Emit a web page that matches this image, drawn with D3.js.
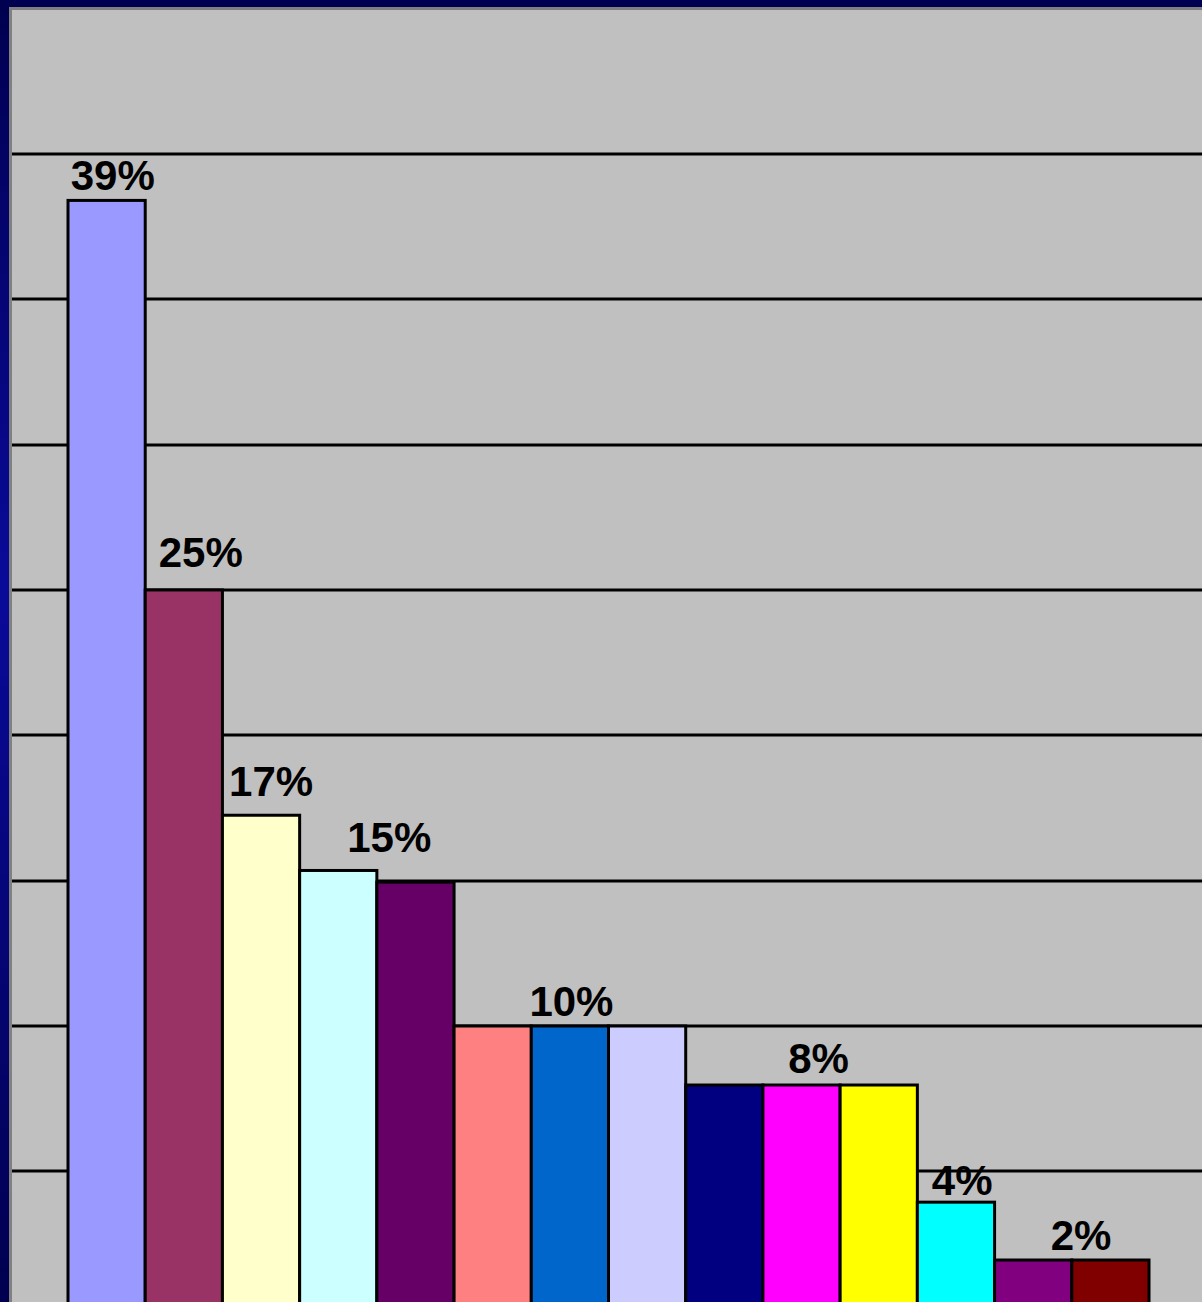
<!DOCTYPE html>
<html>
<head>
<meta charset="utf-8">
<script src="https://cdn.jsdelivr.net/npm/d3@7"></script>
<style>
  html, body { margin: 0; padding: 0; background: #000060; overflow: hidden; }
  svg { display: block; }
</style>
</head>
<body>
<svg id="chart" width="1202" height="1302"></svg>
<script>
// ---- data ----
const categories = ["A","B","C","D","E","F","G","H","I","J","K","L","M","N"];
const values = [38.4, 25.0, 17.25, 15.35, 14.95, 10, 10, 10, 7.97, 7.97, 7.97, 3.94, 1.95, 1.95];
const colors = ["#9999FF","#993366","#FFFFCC","#CCFFFF","#660066","#FF8080","#0066CC","#CCCCFF","#000080","#FF00FF","#FFFF00","#00FFFF","#800080","#800000"];
const labelTexts = ["39%","25%","17%","15%","10%","8%","4%","2%"];
const gridTicks = [5,10,15,20,25,30,35,40];

// ---- layout ----
const W = 1202, H = 1302;
const plotLeft = 12, plotTop = 10;
// label anchor positions (in bar units and value units)
const labelPos = [[0.58,38.76],[1.72,25.78],[2.63,17.9],[4.16,16.0],[6.52,10.34],[9.72,8.4],[11.58,4.2],[13.12,2.29]];

const svg = d3.select("#chart");
const defs = svg.append("defs");
const grad = defs.append("linearGradient").attr("id","bg").attr("x1",0).attr("y1",0).attr("x2",0).attr("y2",1);
grad.append("stop").attr("offset","0%").attr("stop-color","#000050");
grad.append("stop").attr("offset","45%").attr("stop-color","#0A0A9A");
grad.append("stop").attr("offset","100%").attr("stop-color","#000050");
svg.append("rect").attr("width",W).attr("height",H).attr("fill","url(#bg)");

// plot area with grey border
svg.append("rect").attr("x",plotLeft-1.5).attr("y",plotTop-1.5)
  .attr("width",W).attr("height",H)
  .attr("fill","#C0C0C0").attr("stroke","#808080").attr("stroke-width",3);

const x = d3.scaleBand().domain(categories).range([68,1149]).padding(0);
const y = d3.scaleLinear().domain([0,40]).range([1316.7,153.9]);
const xu = d3.scaleLinear().domain([0,categories.length]).range([68,1149]);

// gridlines
svg.append("g").selectAll("line").data(gridTicks).join("line")
  .attr("x1",plotLeft).attr("x2",W)
  .attr("y1",d=>Math.round(y(d))).attr("y2",d=>Math.round(y(d)))
  .attr("stroke","#000").attr("stroke-width",3);

// bars
svg.append("g").selectAll("rect").data(values).join("rect")
  .attr("x",(d,i)=>x(categories[i]))
  .attr("y",d=>y(d))
  .attr("width",x.bandwidth())
  .attr("height",d=>y(0)-y(d))
  .attr("fill",(d,i)=>colors[i])
  .attr("stroke","#000").attr("stroke-width",3);

// labels
svg.append("g").selectAll("text").data(labelTexts).join("text")
  .attr("x",(d,i)=>xu(labelPos[i][0]))
  .attr("y",(d,i)=>y(labelPos[i][1]))
  .attr("text-anchor","middle")
  .attr("font-family","'Liberation Sans', Arial, sans-serif")
  .attr("font-weight","bold")
  .attr("font-size",42)
  .attr("fill","#000")
  .text(d=>d);
</script>
</body>
</html>
